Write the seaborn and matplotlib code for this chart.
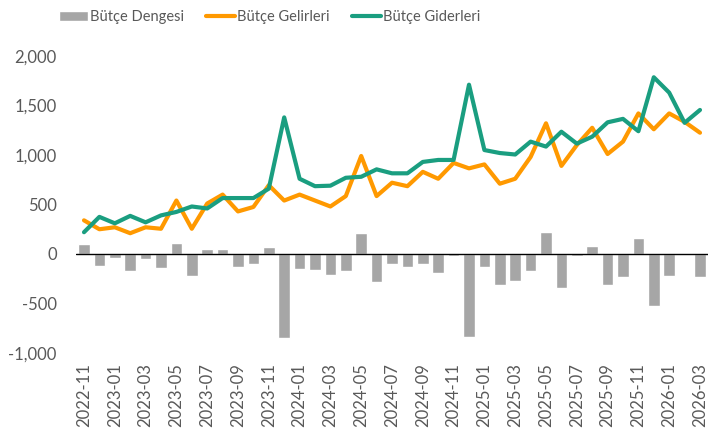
import pandas as pd
import seaborn as sns
import matplotlib.pyplot as plt
import numpy as np

# monthly budget figures (billion TL), 2022-11 .. 2026-03
months = list(pd.date_range("2022-11-01", periods=41, freq="MS").strftime("%Y-%m"))

denge = [105, -120, -40, -170, -50, -140, 115, -220, 48, 48,
         -130, -100, 68, -845, -150, -160, -210, -175, 215, -280,
         -100, -130, -100, -190, -20, -840, -135, -310, -270, -175,
         220, -340, -25, 85, -310, -230, 160, -530, -225, 15, -230]

gelir = [340, 250, 270, 210, 270, 255, 540, 255, 510, 600,
         430, 475, 695, 540, 600, 540, 480, 585, 990, 585,
         720, 685, 830, 760, 920, 865, 905, 710, 760, 980,
         1320, 890, 1100, 1275, 1010, 1135, 1420, 1260, 1420, 1335, 1225]

gider = [220, 375, 310, 385, 320, 390, 425, 480, 460, 565,
         565, 565, 660, 1380, 760, 685, 690, 770, 780, 855,
         815, 815, 930, 950, 950, 1710, 1050, 1020, 1005, 1135,
         1085, 1235, 1115, 1185, 1330, 1365, 1240, 1785, 1630, 1325, 1455]

legend_labels = ["Bütçe Dengesi", "Bütçe Gelirleri", "Bütçe Giderleri"]

df = pd.DataFrame({"month": months, "denge": denge, "gelir": gelir, "gider": gider})

sns.set_style("white")
plt.rcParams["font.family"] = ["Lato", "DejaVu Sans"]
text_color = "#595959"

fig = plt.figure(figsize=(7.08, 4.36), dpi=100)
ax = fig.add_axes([76.3 / 708, 1 - 353 / 436, (707.7 - 76.3) / 708, (353 - 56) / 436])

sns.barplot(data=df, x="month", y="denge", color="#A6A6A6", saturation=1,
            width=0.75, ax=ax, label=legend_labels[0])
sns.lineplot(data=df, x="month", y="gelir", color="#FF9900", lw=3, ax=ax,
             label=legend_labels[1])
sns.lineplot(data=df, x="month", y="gider", color="#1A9E80", lw=3, ax=ax,
             label=legend_labels[2])

ax.axhline(0, color="black", lw=1, zorder=1.5)

ax.set_xlim(-0.5, len(months) - 0.5)
ax.set_ylim(-1000, 2000)
ax.set_yticks([-1000, -500, 0, 500, 1000, 1500, 2000])
ax.set_yticklabels([f"{v:,}" for v in [-1000, -500, 0, 500, 1000, 1500, 2000]])
ax.set_xticks(range(0, len(months), 2))
ax.set_xticklabels(months[::2], rotation=90)
ax.tick_params(axis="y", length=0, pad=14, labelsize=12, labelcolor=text_color)
ax.tick_params(axis="x", length=0, pad=7, labelsize=12, labelcolor=text_color)
ax.set_xlabel("")
ax.set_ylabel("")
sns.despine(ax=ax, left=True, bottom=True)

# legend in the original order: bars first, then the two lines
handles, labels = ax.get_legend_handles_labels()
by_label = dict(zip(labels, handles))
ax.get_legend().remove()
fig.legend([by_label[l] for l in legend_labels], legend_labels, loc="center",
           bbox_to_anchor=(0.381, 0.961), ncol=3, frameon=False, fontsize=10.5,
           handlelength=2.0, handletextpad=0.15, columnspacing=1.5,
           labelcolor=text_color)

fig.savefig("out.png", dpi=100)
